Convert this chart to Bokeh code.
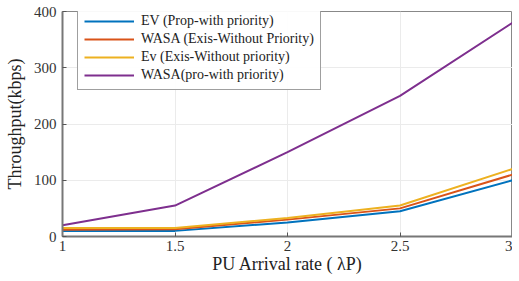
from bokeh.plotting import figure
from bokeh.embed import file_html
from bokeh.resources import INLINE
from bokeh.models import Range1d, FixedTicker, Legend, LegendItem

x = [1, 1.5, 2, 2.5, 3]
ev_prop = [10, 10, 25, 45, 100]
wasa_exis = [12, 13, 30, 50, 110]
ev_exis = [15, 15, 33, 55, 120]
wasa_pro = [20, 55, 150, 250, 380]
names = ["EV (Prop-with priority)", "WASA (Exis-Without Priority)",
         "Ev (Exis-Without priority)", "WASA(pro-with priority)"]
colors = ["#0072BD", "#D95319", "#EDB120", "#7E2F8E"]
xticks = [1, 1.5, 2, 2.5, 3]
yticks = [0, 100, 200, 300, 400]

p = figure(frame_width=450, frame_height=225, output_backend="svg", toolbar_location=None,
           x_range=Range1d(1, 3), y_range=Range1d(0, 400),
           min_border_left=62, min_border_right=0, min_border_top=11, min_border_bottom=0)
font = "Liberation Serif"
items = []
for ys, n, c in zip([ev_prop, wasa_exis, ev_exis, wasa_pro], names, colors):
    r = p.line(x, ys, line_color=c, line_width=2)
    items.append(LegendItem(label=n, renderers=[r]))

leg = Legend(items=items, location=(15, 146))
leg.label_text_font = font
leg.label_text_font_size = "14px"
leg.label_text_color = "#222222"
leg.glyph_width = 50
leg.glyph_height = 14
leg.label_height = 14
leg.spacing = 2
leg.padding = 6
leg.margin = 0
leg.label_standoff = 7
leg.border_line_color = "#404040"
leg.border_line_width = 1.5
leg.background_fill_color = "white"
p.add_layout(leg)

p.xaxis.ticker = FixedTicker(ticks=xticks)
p.yaxis.ticker = FixedTicker(ticks=yticks)
p.xaxis.major_label_overrides = {1: "1", 1.5: "1.5", 2: "2", 2.5: "2.5", 3: "3"}
for ax in [p.xaxis[0], p.yaxis[0]]:
    ax.major_label_text_font = font
    ax.major_label_text_font_size = "15px"
    ax.major_label_text_color = "#333333"
    ax.axis_label_text_font = font
    ax.axis_label_text_font_size = "18px"
    ax.axis_label_text_font_style = "normal"
    ax.axis_label_text_color = "#222222"
    ax.axis_line_color = "#777777"
    ax.axis_line_width = 2
    ax.major_tick_in = 4
    ax.major_tick_out = 0
    ax.major_tick_line_color = "#555555"
    ax.minor_tick_line_color = None
p.xaxis.axis_label = "PU Arrival rate ( λP)"
p.yaxis.axis_label = "Throughput(kbps)"
p.xaxis.major_label_standoff = 4
p.yaxis.major_label_standoff = 6
p.xaxis.axis_label_standoff = 0
p.yaxis.axis_label_standoff = 6
p.grid.grid_line_color = "#ebebeb"
p.outline_line_color = "#888888"
p.outline_line_width = 1

open("out.html", "w").write(file_html(p, INLINE))
